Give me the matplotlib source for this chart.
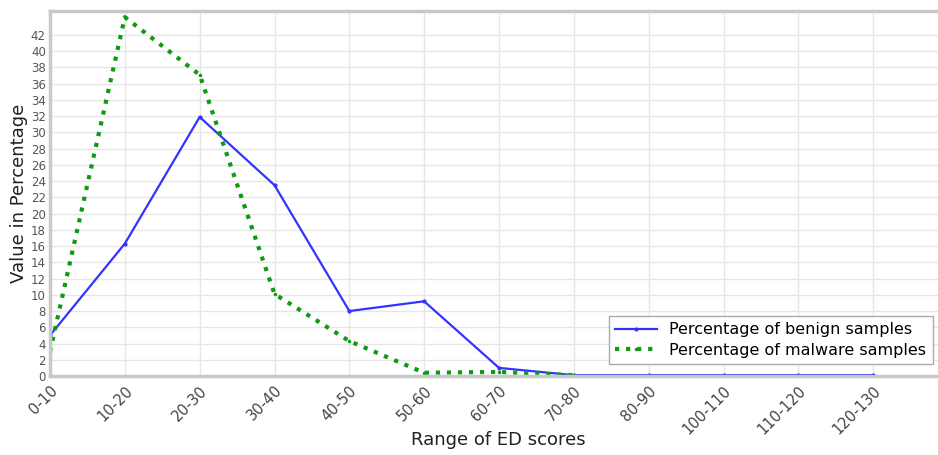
import matplotlib.pyplot as plt
import numpy as np

# 数据
categories = ['0-10', '10-20', '20-30', '30-40', '40-50', '50-60', '60-70',
              '70-80', '80-90', '100-110', '110-120', '120-130']
benign = [5.0, 16.3, 31.9, 23.5, 8.0, 9.2, 1.0, 0.1, 0.1, 0.1, 0.1, 0.1]
malware = [3.0, 44.2, 37.1, 10.1, 4.3, 0.4, 0.5, 0.1]
y_ticks = list(range(0, 44, 2))

fig = plt.figure(figsize=(9.38, 4.55), dpi=100)
ax = fig.add_axes([50 / 938, 79 / 455, 898 / 938, 0.803])

x = np.arange(len(categories))
ax.plot(x, benign, '-', color='#3333ff', lw=1.6, marker='.', markersize=4,
        label='Percentage of benign samples')
ax.plot(np.arange(len(malware)), malware, ':', color='#119911', lw=3,
        marker='.', markersize=3, label='Percentage of malware samples')

ax.set_xlim(0, 12)
ax.set_ylim(0, 45)
ax.set_yticks(y_ticks)
ax.set_xticks(x)
ax.set_xticklabels(categories, rotation=45, ha='right', rotation_mode='anchor',
                   fontsize=10.5, color='#444444')
ax.tick_params(axis='y', labelsize=8.5, labelcolor='#555555', length=0, pad=3)
ax.tick_params(axis='x', length=0, pad=5)

ax.grid(True, color='#e6e6e6', lw=1)
ax.set_axisbelow(True)
for s in ax.spines.values():
    s.set_color('#c8c8c8')
    s.set_linewidth(2.5)

ax.set_ylabel('Value in Percentage', fontsize=13, color='#222222', labelpad=2)
# x 轴标签放在图底部
fig.text(498 / 938, 1 - 440 / 455, 'Range of ED scores', fontsize=13,
         color='#222222', ha='center', va='center')

leg = ax.legend(loc='lower right', bbox_to_anchor=(0.992, 0.01), fontsize=11.5,
                fancybox=False, borderpad=0.4, handlelength=2.6,
                labelspacing=0.35, framealpha=1)
leg.get_frame().set_edgecolor('#aaaaaa')

plt.savefig('out.png', dpi=100)
